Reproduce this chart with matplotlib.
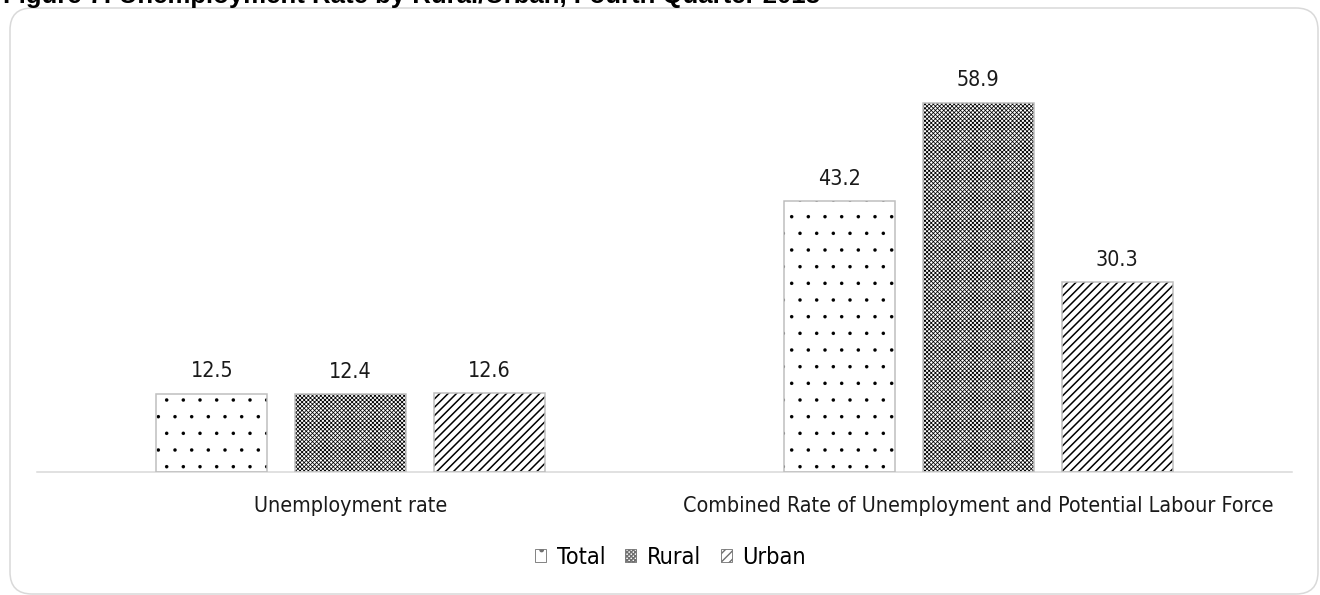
import os
import numpy as np
import matplotlib
matplotlib.use("Agg")
import matplotlib.pyplot as plt
from matplotlib import font_manager as fm
from matplotlib.patches import FancyBboxPatch, Patch
from matplotlib.transforms import IdentityTransform

# ── data ────────────────────────────────────────────────────────────
TITLE = "Figure 7: Unemployment Rate by Rural/Urban, Fourth Quarter 2018"
categories = ["Unemployment rate",
              "Combined Rate of Unemployment and Potential Labour Force"]
series = ["Total", "Rural", "Urban"]
total = [12.5, 43.2]
rural = [12.4, 58.9]
urban = [12.6, 30.3]

values = {"Total": total, "Rural": rural, "Urban": urban}
HATCH = {"Total": ".", "Rural": "xxxxxxxx", "Urban": "////"}
HATCH_LW = {"Total": 0.1, "Rural": 0.55, "Urban": 1.1}
EDGE = "#bfbfbf"
FRAME = "#d9d9d9"
TXT = "#1a1a1a"


def narrow_font_file():
    # the source uses Arial Narrow; take the closest condensed face installed
    prefs = ["liberationsansnarrow-regular", "arialn.ttf",
             "dejavusanscondensed.ttf", "notosans-condensed.ttf",
             "notosans-condensedregular", "notosans-semicondensed.ttf"]
    files = [f.fname for f in fm.fontManager.ttflist]
    for p in prefs:
        for f in files:
            if p in os.path.basename(f).lower():
                return f
    return None


nf = narrow_font_file()
if nf:
    base_fp = fm.FontProperties(fname=nf)
else:
    base_fp = fm.FontProperties(family=["Liberation Sans", "DejaVu Sans"])

W, H = 1320, 595
fig = plt.figure(figsize=(W / 100, H / 100), dpi=100)

# fit the font size so the long category label spans ~591 px as in the source
renderer = fig.canvas.get_renderer()
probe_fp = base_fp.copy()
probe_fp.set_size(17.5)
t = fig.text(0, 0, categories[1], fontproperties=probe_fp)
wpx = t.get_window_extent(renderer).width
t.remove()
FS = min(19.0, 17.5 * 591 / wpx)
fp = base_fp.copy()
fp.set_size(FS)

ax = fig.add_axes([37 / W, (H - 472) / H, (1292 - 37) / W, (472 - 40) / H])

x = np.arange(len(categories))
width = 0.177
step = 0.2215
for i, name in enumerate(series):
    pos = x + (i - 1) * step
    vals = values[name]
    # hatch layer (hatch colour follows edgecolor), then the grey outline
    with plt.rc_context({"hatch.linewidth": HATCH_LW[name]}):
        ax.bar(pos, vals, width, color="white", edgecolor="black",
               hatch=HATCH[name], linewidth=0, zorder=2)
    ax.bar(pos, vals, width, fill=False, edgecolor=EDGE, linewidth=1.1,
           zorder=3)
    for xp, v in zip(pos, vals):
        ax.annotate(f"{v:.1f}", (xp, v), xytext=(0, 9),
                    textcoords="offset points", ha="center", va="bottom",
                    fontproperties=fp, color=TXT)

ax.set_xlim(-0.5, 1.5)
ax.set_ylim(0, 432 / 6.265)
ax.set_xticks(x)
ax.set_xticklabels(categories, fontproperties=fp, color=TXT)
ax.tick_params(axis="x", length=0, pad=17)
ax.set_yticks([])
for side in ("top", "left", "right"):
    ax.spines[side].set_visible(False)
ax.spines["bottom"].set_color(FRAME)
ax.spines["bottom"].set_linewidth(1.1)

handles = []
for s in series:
    with plt.rc_context({"hatch.linewidth": HATCH_LW[s]}):
        handles.append(Patch(facecolor="white", edgecolor="#6f6f6f",
                             hatch=HATCH[s], linewidth=0.6, label=s))
leg_fp = base_fp.copy()
leg_fp.set_size(FS * 1.09)
fig.legend(handles=handles, loc="center", bbox_to_anchor=(0.508, (H - 557) / H),
           ncol=3, frameon=False, prop=leg_fp, handlelength=0.48,
           handleheight=0.48, handletextpad=0.45, columnspacing=0.85)

fig.text(3 / W, 1 - 3 / H, TITLE, fontsize=18.5, fontweight="bold",
         family=["Liberation Sans", "DejaVu Sans"], ha="left", va="baseline")

frame = FancyBboxPatch((10, 1), 1308, 586,
                       boxstyle="round,pad=0,rounding_size=22",
                       transform=IdentityTransform(), fill=False,
                       edgecolor=FRAME, linewidth=1.1)
fig.add_artist(frame)

fig.savefig("out.png", dpi=100)
